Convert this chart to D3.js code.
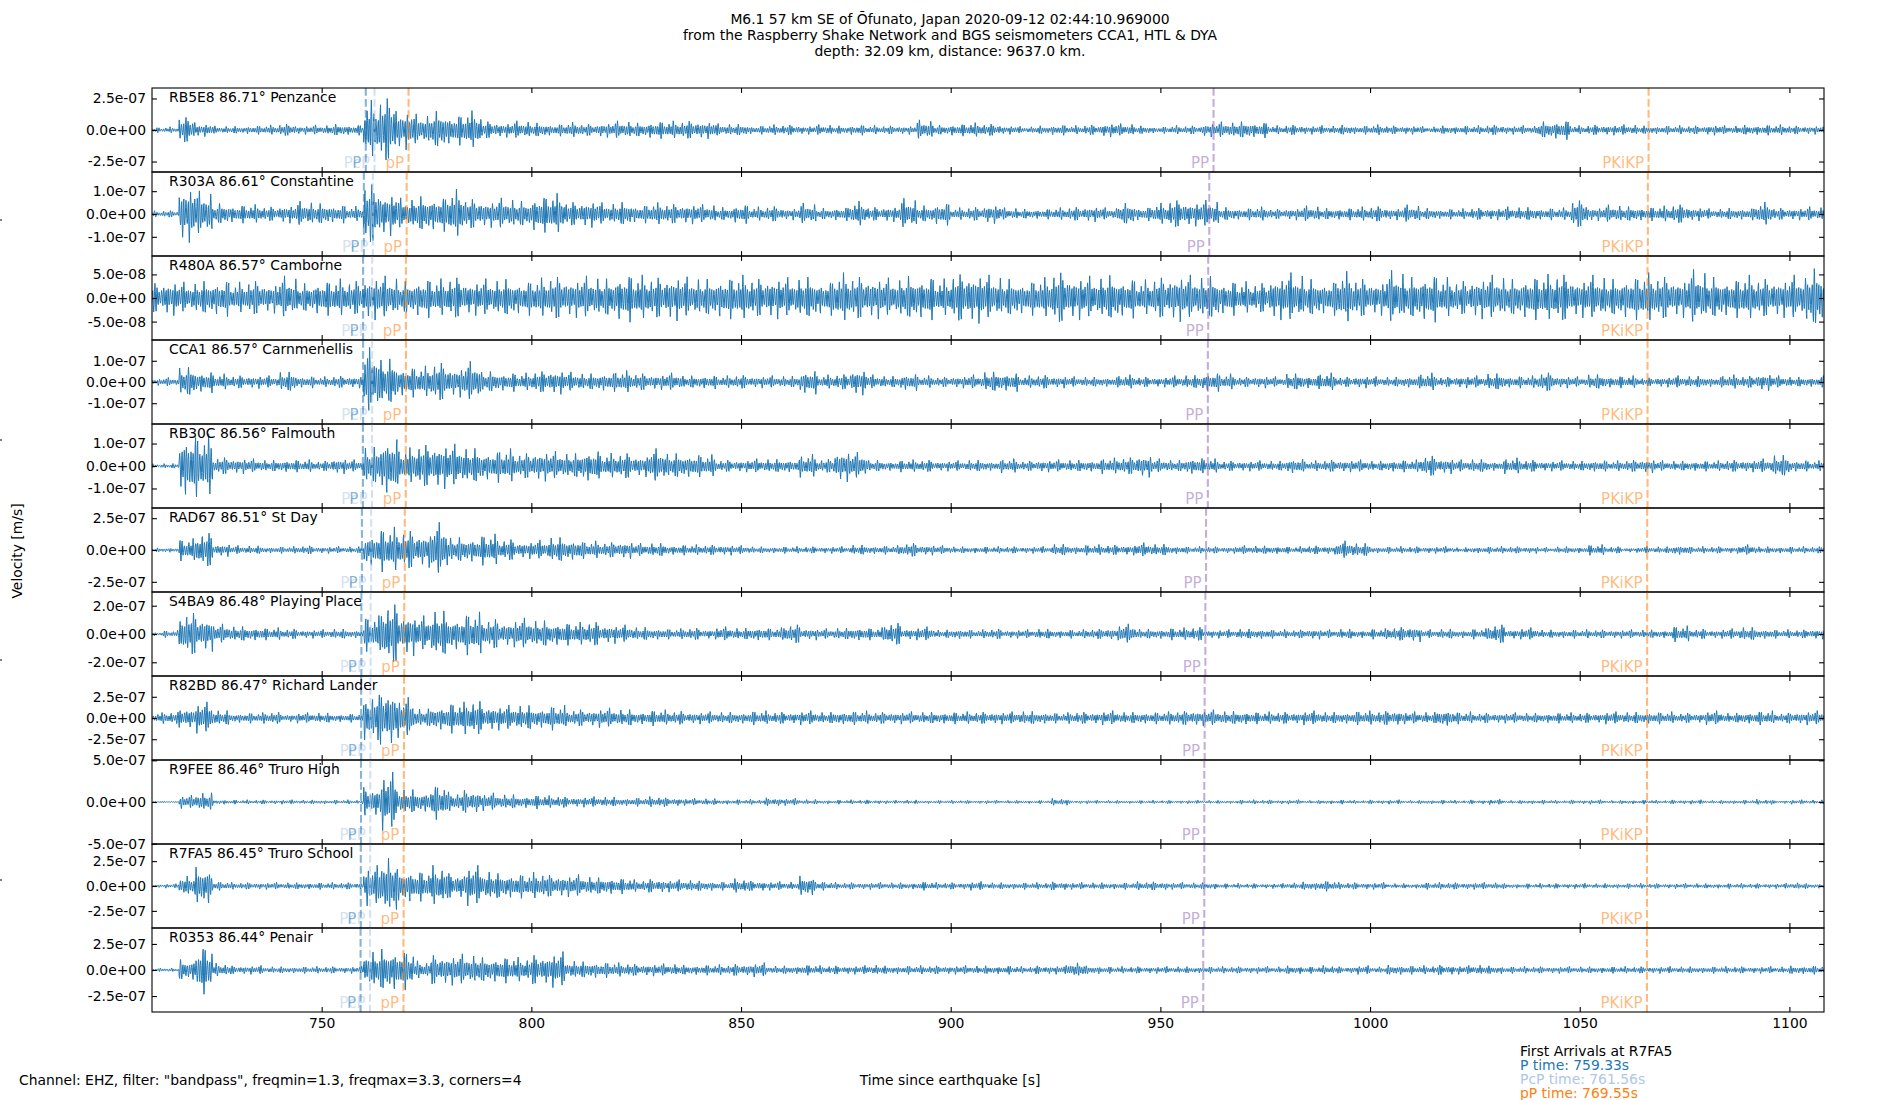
<!DOCTYPE html>
<html>
<head>
<meta charset="utf-8">
<script src="https://cdn.jsdelivr.net/npm/d3@7/dist/d3.min.js"></script>
<style>
  body { margin: 0; background: #fff; }
  text { font-family: "DejaVu Sans", sans-serif; font-size: 13.9px; }
  .phase-label { font-size: 15px; }
</style>
</head>
<body>
<svg id="chart" width="1900" height="1100"></svg>
<script>
// Station list, top to bottom
var stations = ["RB5E8", "R303A", "R480A", "CCA1", "RB30C", "RAD67", "S4BA9", "R82BD", "R9FEE", "R7FA5", "R0353"];
var distances = [86.71, 86.61, 86.57, 86.57, 86.56, 86.51, 86.48, 86.47, 86.46, 86.45, 86.44];
var places = ["Penzance", "Constantine", "Camborne", "Carnmenellis", "Falmouth", "St Day",
  "Playing Place", "Richard Lander", "Truro High", "Truro School", "Penair"];

// half range of each panel's y axis [m/s] and the tick shown either side of zero
var yLimits = [3.33e-7, 1.84e-7, 8.9e-8, 1.98e-7, 1.87e-7, 3.30e-7, 2.97e-7, 4.95e-7, 5.04e-7, 4.22e-7, 4.03e-7];
var yTicks = [2.5e-7, 1.0e-7, 5.0e-8, 1.0e-7, 1.0e-7, 2.5e-7, 2.0e-7, 2.5e-7, 5.0e-7, 2.5e-7, 2.5e-7];

// phase arrival times [s] at every station
var pTimes = [760.52, 760.06, 759.88, 759.88, 759.83, 759.60, 759.47, 759.42, 759.38, 759.33, 759.28];
var pcpTimes = [762.60, 762.20, 762.04, 762.04, 762.00, 761.80, 761.68, 761.64, 761.60, 761.56, 761.52];
var pPTimes = [770.72, 770.27, 770.09, 770.09, 770.05, 769.82, 769.69, 769.64, 769.60, 769.55, 769.51];
var ppTimes = [962.68, 961.66, 961.41, 961.32, 961.32, 960.90, 960.73, 960.56, 960.47, 960.47, 960.22];
var pkikpTimes = [1066.42, 1066.25, 1066.17, 1066.17, 1066.17, 1066.08, 1066.08, 1066.06, 1066.05, 1066.04, 1066.03];

var xTicks = [750, 800, 850, 900, 950, 1000, 1050, 1100];
var timeRange = [709.54, 1108.25];

// peak amplitude of each trace, in % of its y limit, read every 4 s from 710 s to 1110 s
var envStart = 710, envStep = 4;
var envRB5E8 = [6,7,30,15,9,9,10,11,14,10,11,14,12,65,75,45,35,45,35,42,20,17,20,17,14,17,14,17,20,17,20,20,21,20,
  14,14,10,12,12,10,12,10,12,10,10,10,22,12,14,16,14,10,8,10,12,10,12,16,14,10,8,10,10,16,18,20,18,
  10,12,10,10,12,10,12,10,10,8,10,10,10,12,10,10,20,22,10,12,12,12,10,10,10,10,12,10,12,12,12,10,10,10];
var envR303A = [7,8,65,50,25,21,21,17,21,28,25,21,17,70,50,35,42,40,54,35,31,35,31,42,45,28,31,25,28,21,25,23,23,21,
  16,22,16,18,14,24,14,16,28,16,18,34,20,26,14,16,22,14,12,12,14,16,18,14,26,16,24,32,28,30,16,14,16,
  12,14,18,14,14,16,18,14,20,14,12,12,14,14,16,16,14,14,32,16,20,18,16,18,22,16,12,14,14,26,14,14,16,18];
var envR480A = [35,40,35,40,42,35,40,35,48,35,40,42,40,50,48,40,45,42,48,40,42,45,40,44,50,45,48,46,55,50,48,52,46,45,
  48,50,45,48,45,50,40,55,50,48,44,52,50,42,56,58,50,45,40,45,60,50,48,54,46,40,48,54,50,52,40,36,35,
  50,55,45,40,58,45,40,60,50,55,45,40,48,50,45,50,52,55,45,50,45,50,55,50,45,62,50,45,50,45,45,50,70,50];
var envCCA1 = [8,10,35,25,18,15,15,14,24,14,12,14,14,75,55,35,35,45,35,45,25,22,20,25,28,22,20,22,25,20,18,20,15,16,
  14,16,14,14,14,28,16,18,30,16,14,20,14,12,14,16,24,22,14,16,14,12,12,12,16,12,12,14,16,22,18,12,14,
  12,20,16,20,12,14,12,12,14,20,12,14,14,20,14,14,22,14,12,18,14,14,10,12,14,14,12,16,14,20,14,12,12,18];
var envRB30C = [5,6,75,70,20,18,16,14,15,14,12,18,14,45,70,40,50,52,48,42,35,38,30,35,32,30,38,28,30,25,38,30,28,25,
  14,14,16,16,16,26,16,36,30,14,12,14,14,12,12,14,12,16,12,14,14,14,14,18,20,26,16,14,20,16,12,12,12,
  12,18,12,14,14,14,12,14,14,24,18,14,16,12,18,14,12,12,12,14,12,14,16,12,12,12,12,14,14,16,26,14,12,14];
var envRAD67 = [5,6,25,40,15,10,10,8,8,10,8,8,8,40,50,45,40,60,30,30,35,25,20,22,30,25,20,18,20,15,16,12,12,12,
  12,10,8,8,8,8,8,8,12,10,10,16,12,10,8,8,8,8,8,8,14,10,12,12,12,16,14,10,8,8,8,10,10,
  10,8,10,10,20,16,8,8,8,8,8,6,8,8,8,8,6,8,8,12,8,6,8,8,12,8,8,8,12,8,8,8,8,8];
var envS4BA9 = [5,8,50,40,22,18,16,14,12,10,10,12,10,40,70,50,40,55,40,48,35,30,35,32,28,26,28,22,20,16,14,12,14,12,
  16,14,16,14,22,14,12,14,16,14,26,14,16,10,12,10,12,10,10,12,10,10,12,14,22,12,12,14,16,10,10,12,12,
  10,10,12,10,12,10,12,16,18,10,12,10,12,22,12,14,10,10,10,10,10,10,10,10,18,12,10,12,16,12,10,10,12,10];
var envR82BD = [12,14,25,35,18,12,12,14,10,12,12,10,10,55,70,45,22,30,35,40,30,28,30,25,28,20,20,22,20,16,18,16,14,14,
  14,14,16,14,14,16,14,16,16,14,14,14,14,14,14,14,14,14,16,14,12,14,14,16,14,14,14,16,18,18,16,16,14,
  14,14,16,14,14,16,16,18,14,14,20,14,12,12,12,12,12,12,12,12,14,14,14,14,12,12,16,12,14,16,12,14,16,14];
var envR9FEE = [2,2,15,22,6,5,5,5,5,5,5,5,5,35,65,30,25,40,22,28,20,18,15,16,14,12,12,12,10,10,12,10,8,8,
  6,6,6,10,8,6,5,5,5,5,4,5,4,4,4,4,4,4,4,4,8,4,4,4,4,4,4,4,4,4,4,5,5,
  5,5,4,5,5,4,5,5,4,5,5,4,5,6,4,5,5,4,5,5,4,5,5,4,5,5,4,5,5,6,4,5,5,5];
var envR7FA5 = [4,5,25,45,10,8,8,8,8,8,8,8,8,45,70,40,35,45,30,45,35,30,28,30,26,25,22,20,18,14,16,14,14,12,
  10,16,12,10,10,24,10,8,8,8,8,8,10,8,8,10,8,8,8,8,10,8,8,8,8,10,10,8,8,8,6,6,6,
  6,8,10,12,8,8,8,6,6,8,8,8,8,8,6,6,6,6,6,6,6,6,6,6,6,6,6,6,6,6,6,8,6,6];
var envR0353 = [4,5,25,55,15,10,10,8,8,8,8,8,8,45,50,45,20,35,35,35,30,30,28,35,40,22,20,18,16,14,14,14,12,12,
  12,14,16,10,10,12,10,10,10,12,10,10,10,10,10,10,10,10,8,10,10,18,10,8,8,8,8,8,8,8,8,8,8,
  8,10,8,10,8,10,8,12,10,10,12,10,12,10,8,8,8,8,8,8,8,8,8,8,8,8,8,8,8,8,8,10,10,10];
var envelopes = [envRB5E8, envR303A, envR480A, envCCA1, envRB30C, envRAD67, envS4BA9, envR82BD, envR9FEE, envR7FA5, envR0353];

// fixed wiggle used to draw the band-passed trace under its envelope:
// peak of each half cycle (share of the envelope) and half-cycle length in 0.1 s steps
var wigglePeaks = [0.45,0.5,0.4,0.55,0.9,1.05,0.85,0.5,0.4,0.45,0.35,0.5,0.7,0.45,0.4,0.55,1.1,0.95,0.6,0.45,
  0.4,0.5,0.35,0.45,0.8,0.65,0.45,0.4,0.5,0.95,1.0,0.9,0.7,0.45,0.4,0.35,0.5,0.45,0.6,0.4,
  0.45,0.85,0.55,0.4,0.5,0.35,0.45,1.05,0.8,0.5,0.4,0.45,0.55,0.4,0.75,0.9,1.1,0.65,0.45,0.4,
  0.5,0.35,0.45,0.6,0.4,0.5,0.95,0.7,0.45,0.4,0.35,0.5,0.45,0.8,1.0,0.85,0.5,0.4,0.45,0.55,
  0.4,0.65,0.45,0.35,0.5,0.9,0.6,0.45,0.4,0.5];
var halfCycleSteps = [3, 2, 3, 3, 2, 3, 2, 3, 3];
var wiggleStep = 0.1;

var titleLines = ["M6.1 57 km SE of \u014Cfunato, Japan 2020-09-12 02:44:10.969000",
  "from the Raspberry Shake Network and BGS seismometers CCA1, HTL & DYA",
  "depth: 32.09 km, distance: 9637.0 km."];
var refIndex = 9;

// phase lines: colour, label and times
var phases = [
  {name: "PcP", times: pcpTimes, color: "#aec7e8"},
  {name: "P", times: pTimes, color: "#1f77b4"},
  {name: "pP", times: pPTimes, color: "#ff7f0e"},
  {name: "PP", times: ppTimes, color: "#9467bd"},
  {name: "PKiKP", times: pkikpTimes, color: "#ff7f0e"}
];

// spread the half-cycle peaks out into one value per 0.1 s step
function buildWiggle() {
  var out = [], sign = 1;
  wigglePeaks.forEach(function(p, j) {
    var steps = halfCycleSteps[j % halfCycleSteps.length];
    var shape = steps === 3 ? [0.45, 1, 0.5] : [0.75, 1];
    shape.forEach(function(s) { out.push(sign * p * s); });
    sign = -sign;
  });
  return out;
}

function drawChart() {
  var svg = d3.select("#chart");
  var plotL = 152, plotR = 1824, plotT = 88, plotB = 1012;
  var panelH = (plotB - plotT) / stations.length;
  var wiggle = buildWiggle();

  var x = d3.scaleLinear().domain(timeRange).range([plotL, plotR]);

  // tick label like matplotlib %.1e, e.g. 2.5e-07
  function sci(v) {
    var parts = v.toExponential(1).split("e");
    var exp = parseInt(parts[1]);
    var e = (exp < 0 ? "-" : "+") + (Math.abs(exp) < 10 ? "0" : "") + Math.abs(exp);
    return parts[0] + "e" + e;
  }

  function cleanAxis(g) {
    g.select(".domain").remove();
    g.attr("font-size", null).attr("font-family", null);
    g.selectAll(".tick line").attr("stroke-width", 1.1);
  }

  stations.forEach(function(st, k) {
    var y0 = plotT + k * panelH, y1 = y0 + panelH;
    var y = d3.scaleLinear().domain([-yLimits[k], yLimits[k]]).range([y1, y0]);
    var panel = svg.append("g").attr("class", "panel");

    panel.append("clipPath").attr("id", "clip" + k)
      .append("rect").attr("x", plotL).attr("y", y0).attr("width", plotR - plotL).attr("height", panelH);

    // trace
    var env = envelopes[k];
    var pts = [];
    var n = Math.floor((timeRange[1] - timeRange[0]) / wiggleStep);
    for (var i = 0; i <= n; i++) {
      var t = timeRange[0] + i * wiggleStep;
      var w = Math.round((t - envStart) / envStep);
      w = Math.max(0, Math.min(env.length - 1, w));
      var amp = env[w] / 100 * yLimits[k];
      pts.push([t, amp * wiggle[(i + k * 37) % wiggle.length]]);
    }
    var line = d3.line().x(function(d) { return x(d[0]); }).y(function(d) { return y(d[1]); });
    panel.append("path")
      .attr("d", line(pts))
      .attr("clip-path", "url(#clip" + k + ")")
      .attr("fill", "none")
      .attr("stroke", "#1f77b4")
      .attr("stroke-width", 1.0)
      .attr("stroke-linejoin", "round");

    // phase arrivals
    phases.forEach(function(ph) {
      var px = x(ph.times[k]);
      panel.append("line")
        .attr("x1", px).attr("x2", px).attr("y1", y0).attr("y2", y1)
        .attr("stroke", ph.color).attr("stroke-opacity", 0.55)
        .attr("stroke-width", 2.08).attr("stroke-dasharray", "7.7,3.3");
      panel.append("text")
        .attr("class", "phase-label")
        .attr("x", px - 4.5).attr("y", y1 - 4)
        .attr("text-anchor", "end")
        .attr("fill", ph.color).attr("fill-opacity", 0.55)
        .text(ph.name);
    });

    // axes, ticks pointing inward on all four sides
    var yt = [-yTicks[k], 0, yTicks[k]];
    panel.append("g").attr("transform", "translate(" + plotL + ",0)")
      .call(d3.axisLeft(y).tickValues(yt).tickSizeInner(-4.9).tickSizeOuter(0).tickPadding(6).tickFormat(sci))
      .call(cleanAxis);
    panel.append("g").attr("transform", "translate(" + plotR + ",0)")
      .call(d3.axisRight(y).tickValues(yt).tickSizeInner(-4.9).tickSizeOuter(0).tickFormat(""))
      .call(cleanAxis);
    panel.append("g").attr("transform", "translate(0," + y0 + ")")
      .call(d3.axisTop(x).tickValues(xTicks).tickSizeInner(-4.9).tickSizeOuter(0).tickFormat(""))
      .call(cleanAxis);
    var xb = d3.axisBottom(x).tickValues(xTicks).tickSizeInner(-4.9).tickSizeOuter(0).tickPadding(6.5)
      .tickFormat(k < stations.length - 1 ? "" : d3.format("d"));
    panel.append("g").attr("transform", "translate(0," + y1 + ")")
      .call(xb)
      .call(cleanAxis);

    panel.append("rect")
      .attr("x", plotL).attr("y", y0).attr("width", plotR - plotL).attr("height", panelH)
      .attr("fill", "none").attr("stroke", "#000").attr("stroke-width", 1.1);

    panel.append("text")
      .attr("x", plotL + 17).attr("y", y0 + 14)
      .text(st + " " + distances[k].toFixed(2) + "\u00B0 " + places[k]);
  });

  // title
  svg.append("g").selectAll("text").data(titleLines).enter().append("text")
    .attr("x", 950)
    .attr("y", function(d, i) { return 23.5 + i * 16.3; })
    .attr("text-anchor", "middle")
    .text(function(d) { return d; });

  // y label
  svg.append("text")
    .attr("transform", "translate(22,551) rotate(-90)")
    .attr("text-anchor", "middle")
    .text("Velocity [m/s]");

  // stray ticks of the full-figure label axis at the left edge
  var figY = d3.scaleLinear().domain([0, 1]).range([1100, 0]);
  svg.append("g").selectAll("line").data([0.2, 0.4, 0.6, 0.8]).enter().append("line")
    .attr("x1", 0).attr("x2", 2)
    .attr("y1", function(d) { return figY(d); }).attr("y2", function(d) { return figY(d); })
    .attr("stroke", "#000").attr("stroke-width", 1.1);

  svg.append("text")
    .attr("x", 19).attr("y", 1085)
    .text('Channel: EHZ, filter: "bandpass", freqmin=1.3, freqmax=3.3, corners=4');

  svg.append("text")
    .attr("x", 950).attr("y", 1085)
    .attr("text-anchor", "middle")
    .text("Time since earthquake [s]");

  // first arrivals box
  var arrivals = [
    {txt: "First Arrivals at " + stations[refIndex], color: "#000"},
    {txt: "P time: " + pTimes[refIndex].toFixed(2) + "s", color: "#1f77b4"},
    {txt: "PcP time: " + pcpTimes[refIndex].toFixed(2) + "s", color: "#aec7e8"},
    {txt: "pP time: " + pPTimes[refIndex].toFixed(2) + "s", color: "#ff7f0e"}
  ];
  svg.append("g").selectAll("text").data(arrivals).enter().append("text")
    .attr("x", 1520)
    .attr("y", function(d, i) { return 1056 + i * 14; })
    .attr("fill", function(d) { return d.color; })
    .text(function(d) { return d.txt; });
}
drawChart();
</script>
</body>
</html>
